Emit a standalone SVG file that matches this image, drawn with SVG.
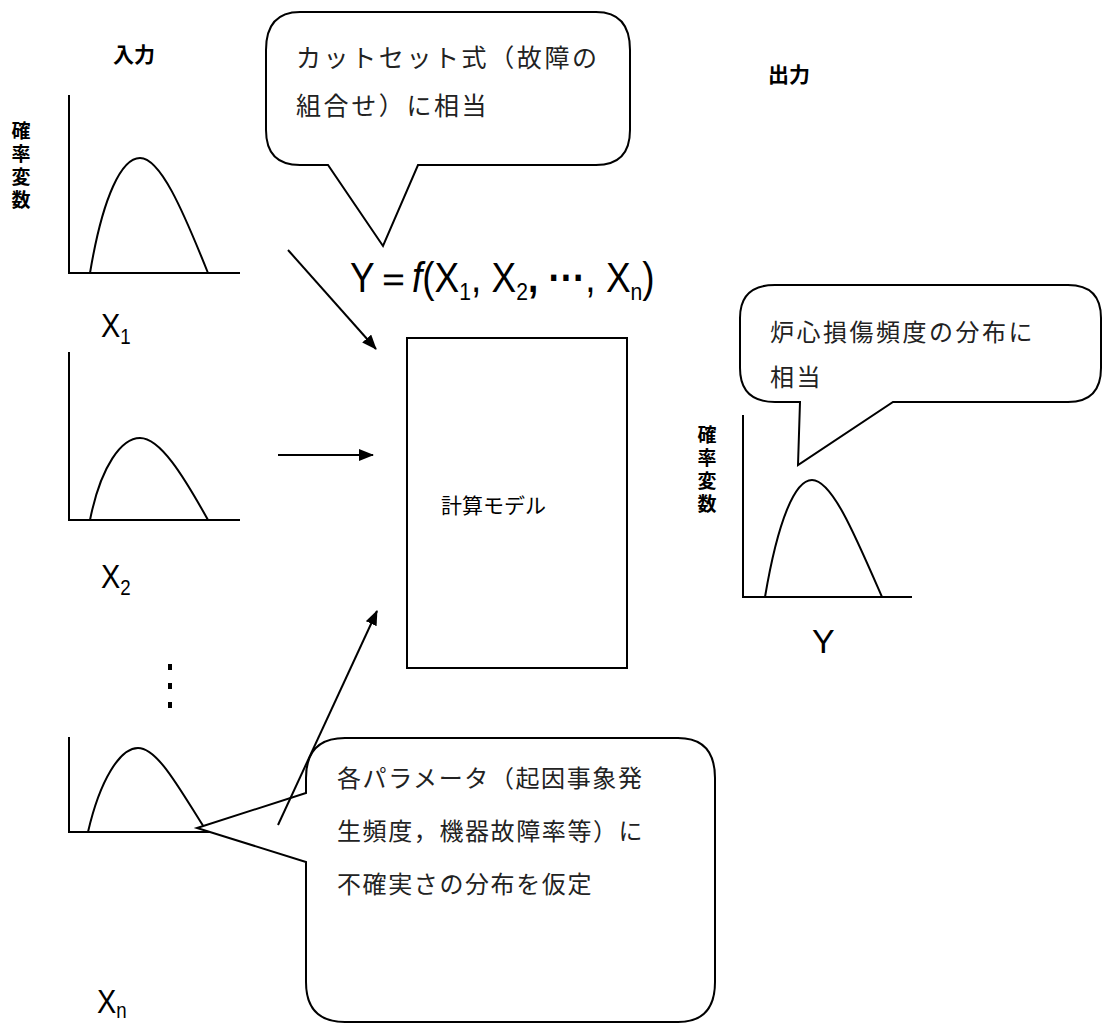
<svg xmlns="http://www.w3.org/2000/svg" width="1106" height="1025" viewBox="0 0 1106 1025">
<style>
.ax{fill:none;stroke:#000;stroke-width:2}
.cv{fill:none;stroke:#000;stroke-width:2}
.lbl{font-family:"Noto Sans CJK JP",sans-serif;font-size:21px;font-weight:bold;fill:#000}
.vl{font-family:"Noto Sans CJK JP",sans-serif;font-size:19px;font-weight:bold;fill:#000;writing-mode:vertical-rl;letter-spacing:4px}
.co{fill:#fff;stroke:#000;stroke-width:2}
.ct{font-family:"Noto Sans CJK JP",sans-serif;fill:#222}
.var{font-family:"Liberation Sans",sans-serif;font-size:34px;fill:#000}
.sub{font-size:22px}
.ar{stroke:#000;stroke-width:2;fill:none}
</style>
<defs>
<marker id="ah" markerWidth="15" markerHeight="12" refX="14" refY="6" orient="auto" markerUnits="userSpaceOnUse">
<path d="M0,0 L15,6 L0,12 z" fill="#000"/>
</marker>
</defs>

<g id="input-label"><text class="lbl" x="113" y="62">入力</text></g>
<g id="output-label"><text class="lbl" x="768" y="82">出力</text></g>

<g id="ylabel-left">
<text class="vl" x="21" y="121">確率変数</text>
</g>

<g id="graph-x1">
<path class="ax" d="M69,95 V273 H240"/>
<path class="cv" d="M90,273 C103,195 122,158 140,158 C160,158 182,208 208,273"/>
<text class="var" x="101" y="337" transform="translate(101,0) scale(0.85,1) translate(-101,0)">X<tspan class="sub" dy="7">1</tspan></text>
</g>

<g id="graph-x2">
<path class="ax" d="M69,352 V520 H240"/>
<path class="cv" d="M90,520 C101,465 122,438 140,438 C160,438 183,475 208,520"/>
<text class="var" x="101" y="588" transform="translate(101,0) scale(0.85,1) translate(-101,0)">X<tspan class="sub" dy="7">2</tspan></text>
</g>

<g id="dots">
<rect x="168" y="664" width="4" height="6" fill="#000"/>
<rect x="168" y="683" width="4" height="6" fill="#000"/>
<rect x="168" y="702" width="4" height="6" fill="#000"/>
</g>

<g id="graph-xn">
<path class="ax" d="M69,737 V832 H238"/>
<path class="cv" d="M88,832 C100,780 120,748 138,748 C158,748 180,790 207,832"/>
<text class="var" x="97" y="1013" transform="translate(97,0) scale(0.85,1) translate(-97,0)">X<tspan class="sub" dy="5">n</tspan></text>
</g>

<g id="formula">
<text class="var" x="350" y="292" style="font-size:42px" transform="translate(350,0) scale(0.88,1) translate(-350,0)">Y＝<tspan font-style="italic">f</tspan>(X<tspan class="sub" dy="8" style="font-size:24px">1</tspan><tspan dy="-8">, X</tspan><tspan class="sub" dy="8" style="font-size:24px">2</tspan><tspan dy="-8" font-weight="bold">, ···</tspan><tspan>, X</tspan><tspan class="sub" dy="8" style="font-size:24px">n</tspan><tspan dy="-8">)</tspan></text>
</g>

<g id="model">
<rect x="407" y="338" width="220" height="330" fill="#fff" stroke="#000" stroke-width="2"/>
<text class="lbl" x="441" y="513" style="font-weight:normal">計算モデル</text>
</g>

<g id="graph-y">
<text class="vl" x="707" y="425">確率変数</text>
<path class="ax" d="M743,415 V597 H912"/>
<path class="cv" d="M765,597 C778,520 795,480 812,480 C832,480 855,535 882,597"/>
<text class="var" x="812" y="653">Y</text>
</g>

<g id="callout-cutset">
<path class="co" d="M300,12 H596 Q630,12 630,50 V130 Q630,165 596,165 H418 L383,246 L328,165 H300 Q266,165 266,130 V50 Q266,12 300,12 Z"/>
<text class="ct" x="296" y="67" style="font-size:25px;letter-spacing:2.6px">カットセット式（故障の</text>
<text class="ct" x="296" y="115" style="font-size:25px;letter-spacing:2.6px">組合せ）に相当</text>
</g>

<g id="callout-core">
<path class="co" d="M775,285 H1068 Q1101,285 1101,318 V368 Q1101,402 1068,402 H893 L798,465 L800,402 H775 Q740,402 740,368 V318 Q740,285 775,285 Z"/>
<text class="ct" x="770" y="341" style="font-size:24px;letter-spacing:2.5px">炉心損傷頻度の分布に</text>
<text class="ct" x="770" y="386" style="font-size:24px;letter-spacing:2.5px">相当</text>
</g>

<g id="callout-param">
<path class="co" d="M345,738 H678 Q715,738 715,778 V982 Q715,1022 678,1022 H345 Q306,1022 306,982 V862 L197,828 L306,793 V778 Q306,738 345,738 Z"/>
<text class="ct" x="337" y="787" style="font-size:24px;letter-spacing:1.6px">各パラメータ（起因事象発</text>
<text class="ct" x="337" y="840" style="font-size:24px;letter-spacing:1.6px">生頻度，機器故障率等）に</text>
<text class="ct" x="337" y="893" style="font-size:24px;letter-spacing:1.6px">不確実さの分布を仮定</text>
</g>

<g id="connectors">
<line class="ar" x1="288" y1="250" x2="376" y2="349" marker-end="url(#ah)"/>
<line class="ar" x1="278" y1="455" x2="373" y2="455" marker-end="url(#ah)"/>
<line class="ar" x1="278" y1="825" x2="377" y2="611" marker-end="url(#ah)"/>
</g>
</svg>
